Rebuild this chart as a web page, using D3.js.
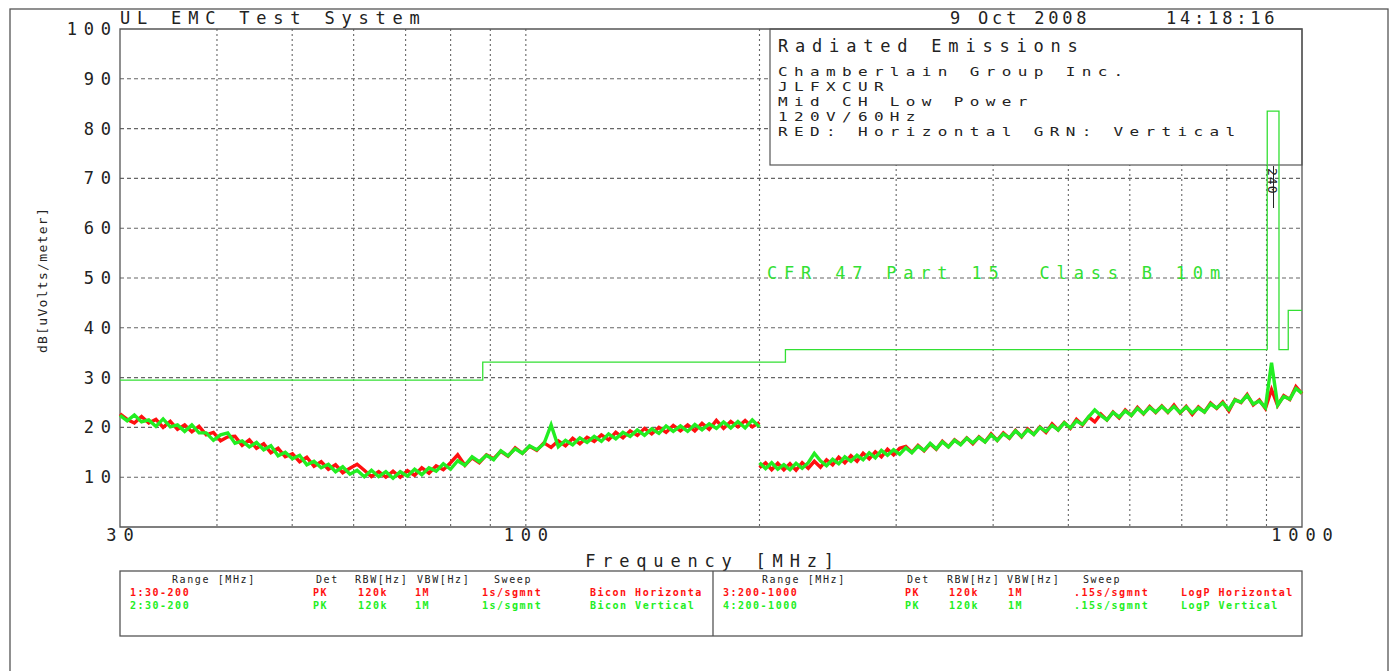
<!DOCTYPE html>
<html><head><meta charset="utf-8">
<script src="https://cdn.jsdelivr.net/npm/d3@7"></script>
<style>
html,body{margin:0;padding:0;background:#fff;}
svg{display:block;}
text{font-family:"DejaVu Sans Mono",monospace;white-space:pre;}
</style></head><body>
<svg id="chart" width="1395" height="671"></svg>
<script>
// ---------------- data ----------------
const yTicks = [10,20,30,40,50,60,70,80,90,100];
const xTickLabels = [30,100,1000];
const xGridFreqs = [40,50,60,70,80,90,100,200,300,400,500,600,700,800,900];
const limitFreq = [30,88,88,216,216,902,902,934,934,960,960,1000];
const limitDb   = [29.5,29.5,33.1,33.1,35.6,35.6,83.5,83.5,35.6,35.6,43.5,43.5];
const seg1Range = [30,200];
const seg2Range = [200,1000];
// Red: horizontal polarisation, 30-200 MHz (Bicon)
const hor1 = [22.7,21.6,20.9,22.2,20.9,21.6,20.0,21.2,19.6,20.5,19.1,20.2,18.5,19.0,17.3,18.1,18.2,16.4,17.5,15.8,
  16.7,14.9,15.8,14.1,14.7,13.1,14.0,12.2,13.1,11.6,12.5,10.9,11.8,12.6,11.4,10.1,11.1,10.0,11.2,10.0,
  11.3,10.4,11.9,10.8,12.3,11.5,12.9,14.5,12.4,13.9,12.9,14.5,13.7,15.2,14.2,15.9,14.8,16.2,15.4,16.9,
  16.0,17.3,16.3,17.8,16.7,18.0,17.2,18.5,17.5,19.0,17.9,19.3,18.4,19.8,18.7,20.0,19.0,20.4,19.3,20.5,
  19.3,20.8,19.6,21.4,19.8,21.2,20.1,21.4,20.1,21.0];
// Green: vertical polarisation, 30-200 MHz (Bicon)
const vert1 = [22.4,21.3,22.5,21.1,21.5,20.2,21.7,20.1,20.5,19.2,20.5,18.9,18.9,17.4,18.5,18.9,16.8,17.3,16.1,17.0,
  15.5,16.3,14.3,15.0,13.7,14.4,12.5,13.2,11.9,12.6,11.1,12.1,10.6,11.4,10.1,11.4,10.1,11.1,9.8,11.1,
  10.2,11.6,10.5,11.9,11.2,12.7,11.6,13.3,12.4,14.1,13.1,14.4,13.5,15.3,14.3,15.7,14.8,16.3,15.5,16.7,
  20.5,16.1,17.4,16.5,17.9,17.0,18.2,17.2,18.7,17.7,19.0,18.2,19.5,18.4,19.7,18.8,20.3,19.2,20.3,19.2,
  20.6,19.5,20.7,19.8,21.1,19.9,21.2,19.9,21.5,20.1];
// Red: horizontal polarisation, 200-1000 MHz (LogP)
const hor2 = [11.9,12.9,11.5,12.8,11.5,12.7,11.4,12.9,11.8,13.2,12.0,13.5,12.5,14.0,12.9,14.3,13.2,14.8,13.7,15.1,
  14.1,15.6,14.5,15.8,16.2,15.0,16.4,15.3,16.7,15.6,17.2,16.1,17.5,16.6,17.9,16.7,18.1,17.1,18.7,17.4,
  18.9,17.8,19.4,18.1,19.7,18.6,20.1,19.0,20.7,19.5,21.0,19.8,21.6,20.5,22.1,21.1,22.7,21.5,23.1,21.9,
  23.5,22.4,24.0,22.7,24.2,23.0,24.3,23.0,24.5,22.9,24.2,22.6,24.1,23.1,24.9,23.8,25.1,23.3,25.6,25.0,
  26.6,24.5,25.5,23.8,27.6,24.4,26.4,25.6,28.2,26.8];
// Green: vertical polarisation, 200-1000 MHz (LogP)
const vert2 = [12.9,11.7,12.9,11.6,12.5,11.5,12.8,11.8,12.9,14.8,13.3,12.3,13.6,12.7,14.1,13.2,14.4,13.5,14.9,13.9,
  15.4,14.4,15.5,14.6,15.9,14.9,16.2,15.4,16.8,15.7,17.1,16.1,17.4,16.5,17.8,16.9,18.0,17.1,18.5,17.4,
  18.7,17.9,19.3,18.2,19.5,18.6,20.0,19.2,20.4,19.5,20.9,19.9,21.3,20.6,22.1,23.5,22.4,21.5,23.0,22.1,
  23.3,22.4,23.8,22.8,24.0,23.1,24.2,23.1,24.2,23.0,24.1,22.9,23.9,23.1,24.7,23.9,24.9,23.6,25.5,25.1,
  26.4,24.7,25.3,24.0,33.0,24.5,26.2,25.7,27.8,26.9];
const infoLines = ["Chamberlain Group Inc.","JLFXCUR","Mid CH Low Power","120V/60Hz","RED: Horizontal GRN: Vertical"];
const legendHeader = ["Range [MHz]","Det","RBW[Hz]","VBW[Hz]","Sweep"];
const legendRows = [
  ["1:30-200","PK","120k","1M","1s/sgmnt","Bicon Horizonta"],
  ["2:30-200","PK","120k","1M","1s/sgmnt","Bicon Vertical"],
  ["3:200-1000","PK","120k","1M",".15s/sgmnt","LogP Horizontal"],
  ["4:200-1000","PK","120k","1M",".15s/sgmnt","LogP Vertical"]
];

// ---------------- layout ----------------
const RED = "#ff1010", GRN = "#22ee22", FRAME = "#555", GRID = "#666", INK = "#222";
const svg = d3.select("#chart");
const x = d3.scaleLog().domain([30,1000]).range([120,1302]);
const y = d3.scaleLinear().domain([0,100]).range([527,29]);
const box = {x0:770, y0:29, x1:1302, y1:165};

svg.append("rect").attr("width",1395).attr("height",671).attr("fill","#fff");
// outer frame
svg.append("rect").attr("x",10).attr("y",9).attr("width",1378).attr("height",700)
  .attr("fill","none").attr("stroke",FRAME).attr("stroke-width",1.3);

const g = svg.append("g");
// horizontal grid
g.selectAll("line.hg").data(yTicks.filter(v=>v<100)).join("line")
  .attr("x1",x(30)).attr("x2",x(1000)).attr("y1",d=>y(d)).attr("y2",d=>y(d))
  .attr("stroke",GRID).attr("stroke-width",1.1).attr("stroke-dasharray","4,3");
// vertical grid
g.selectAll("line.vg").data(xGridFreqs).join("line")
  .attr("x1",d=>x(d)).attr("x2",d=>x(d)).attr("y1",y(100)).attr("y2",y(0))
  .attr("stroke",GRID).attr("stroke-width",1.1).attr("stroke-dasharray","2,3");

// info box
svg.append("rect").attr("x",box.x0).attr("y",box.y0).attr("width",box.x1-box.x0).attr("height",box.y1-box.y0)
  .attr("fill","#fff").attr("stroke",FRAME).attr("stroke-width",1.2);

// axes frame
svg.append("path").attr("d",`M${x(30)},${y(100)}V${y(0)}H${x(1000)}V${y(100)}Z`)
  .attr("fill","none").attr("stroke",FRAME).attr("stroke-width",1.3);

// data
const line = d3.line().x(d=>x(d[0])).y(d=>y(d[1]));
function sweep(range, vals){
  const n = vals.length;
  return vals.map((v,i)=>[range[0]*Math.pow(range[1]/range[0], i/(n-1)), v]);
}
[[seg1Range,hor1,RED],[seg2Range,hor2,RED],[seg1Range,vert1,GRN],[seg2Range,vert2,GRN]].forEach(([r,v,c])=>{
  svg.append("path").attr("d",line(sweep(r,v))).attr("fill","none").attr("stroke",c)
    .attr("stroke-width",3.4).attr("stroke-linejoin","miter");
});

// limit line
svg.append("path").attr("d",line(limitFreq.map((f,i)=>[f,limitDb[i]])))
  .attr("fill","none").attr("stroke","#33e033").attr("stroke-width",1.3);

// marker on fundamental
svg.append("line").attr("x1",x(919)).attr("x2",x(919)).attr("y1",166).attr("y2",208)
  .attr("stroke","#222").attr("stroke-width",1);
svg.append("text").attr("transform",`translate(${x(919)-6},168) rotate(90)`)
  .attr("font-size",13).attr("letter-spacing",1).attr("fill","#222").text("240");

// texts
function txt(sel, s, xx, yy, size, ls, anchor, fill){
  return sel.append("text").attr("x",xx).attr("y",yy).attr("font-size",size)
    .attr("letter-spacing",ls).attr("text-anchor",anchor||"start").attr("fill",fill||INK).text(s);
}
txt(svg,"UL EMC Test System",120,24,17,6.8);
txt(svg,"9 Oct 2008",950,24,17,3.8);
txt(svg,"14:18:16",1166,24,17,3.8);

// y tick labels
yTicks.forEach(v=>txt(svg,String(v),111+6.8,y(v)+6,17,6.8,"end"));
// x tick labels
xTickLabels.forEach(v=>txt(svg,String(v),x(v)+3.4,541,17,6.8,"middle"));
txt(svg,"Frequency [MHz]",713,567,17,6.8,"middle");
svg.append("text").attr("transform","translate(47,280) rotate(-90)").attr("font-size",13)
  .attr("letter-spacing",1.3).attr("text-anchor","middle").attr("fill",INK).text("dB[uVolts/meter]");

// info box text
txt(svg,"Radiated Emissions",778,52,17,6.8);
const infoG = svg.append("g").attr("transform","translate(778,0) scale(1.25,1)");
infoLines.forEach((s,i)=>txt(infoG,s,0,76+i*15,12.8,16/1.25-7.71));

// limit label
txt(svg,"CFR 47 Part 15  Class B 10m",767,279,17,6.8,"start","#33e033");

// legend table
svg.append("rect").attr("x",120).attr("y",571).attr("width",1182).attr("height",65)
  .attr("fill","none").attr("stroke",FRAME).attr("stroke-width",1.3);
svg.append("line").attr("x1",713).attr("x2",713).attr("y1",571).attr("y2",636)
  .attr("stroke",FRAME).attr("stroke-width",1.3);
const hdrX = [[172,316,355,417,494],[762,907,947,1007,1083]];
const colX = [[130,313,358,415,482,590],[723,905,949,1008,1074,1181]];
hdrX.forEach(xs=>legendHeader.forEach((s,i)=>txt(svg,s,xs[i],583,10,1.6)));
legendRows.forEach((row,r)=>{
  const half = r<2?0:1, line_ = r%2;
  row.forEach((s,i)=>txt(svg,s,colX[half][i],596+line_*12.5,10,1.5,"start",line_===0?RED:GRN)
    .attr("font-weight","bold"));
});
</script></body></html>
